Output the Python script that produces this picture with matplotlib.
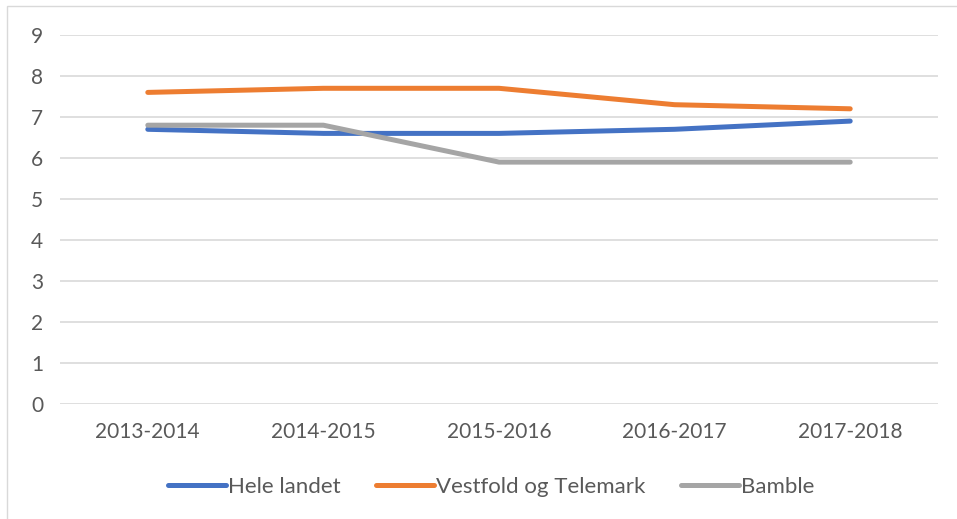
import matplotlib.pyplot as plt
import matplotlib.patches as mpatches

# data
years = ["2013-2014", "2014-2015", "2015-2016", "2016-2017", "2017-2018"]
hele_landet = [6.7, 6.6, 6.6, 6.7, 6.9]
vestfold_telemark = [7.6, 7.7, 7.7, 7.3, 7.2]
bamble = [6.8, 6.8, 5.9, 5.9, 5.9]

plt.rcParams['font.family'] = ['Lato', 'DejaVu Sans']
txt_color = '#595959'

fig = plt.figure(figsize=(9.57, 5.19), dpi=100)
ax = fig.add_axes([60/957, 1 - 404/519, 878/957, 369/519])

x = list(range(len(years)))
ax.plot(x, hele_landet, color='#4472C4', lw=3.6, solid_capstyle='round', label='Hele landet')
ax.plot(x, vestfold_telemark, color='#ED7D31', lw=3.6, solid_capstyle='round', label='Vestfold og Telemark')
ax.plot(x, bamble, color='#A5A5A5', lw=3.6, solid_capstyle='round', label='Bamble')

ax.set_xlim(-0.5, len(years) - 0.5)
ax.set_ylim(0, 9)
ax.set_yticks(range(0, 10))
ax.set_xticks(x)
ax.set_xticklabels(years)
ax.grid(axis='y', color='#d9d9d9', lw=1.2)
ax.set_axisbelow(True)
for sp in ax.spines.values():
    sp.set_visible(False)
ax.tick_params(axis='both', length=0, labelsize=15, colors=txt_color)
ax.tick_params(axis='y', pad=12)
ax.tick_params(axis='x', pad=13)

fig.legend(loc='center', bbox_to_anchor=(0.5136, 1 - 487/519), ncol=3, frameon=False,
           fontsize=16, labelcolor=txt_color, handlelength=2.6, handletextpad=0.1,
           columnspacing=1.6)

# chart area border (only top/left visible in the crop)
fig.patches.append(mpatches.Rectangle((7/957, -0.1), 1.2, 1.1 - 6/519, transform=fig.transFigure,
                                      fill=False, edgecolor='#d9d9d9', lw=1.0))

fig.savefig('out.png', dpi=100)
